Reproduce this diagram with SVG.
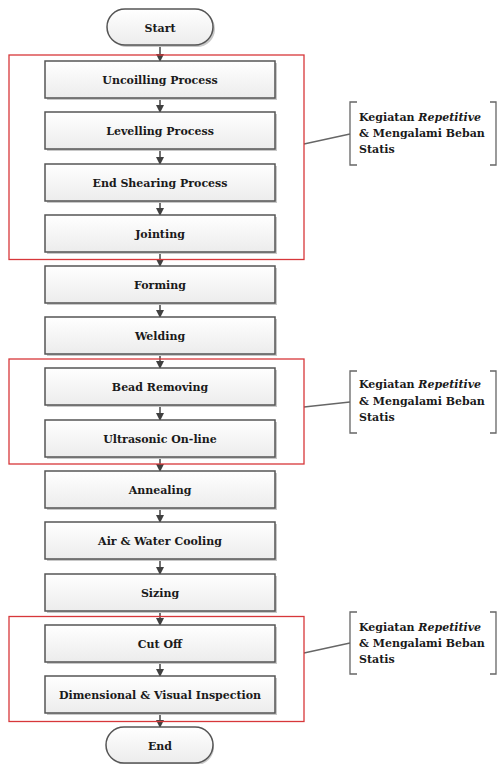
<svg xmlns="http://www.w3.org/2000/svg" width="497" height="764" viewBox="0 0 497 764">
<style>
.box{fill:url(#g);stroke:#555;stroke-width:1.5}
.sh{fill:#c8c8c8}
text{font-family:"DejaVu Serif",serif;font-size:11px;font-weight:bold;fill:#1a1a1a}
.t{text-anchor:middle}
.red{fill:none;stroke:#d7373a;stroke-width:1.3}
.ln{stroke:#454545;stroke-width:1.5;fill:none}
.br{stroke:#666;stroke-width:1.3;fill:none}
</style>
<defs>
<linearGradient id="g" x1="0" y1="0" x2="0" y2="1">
<stop offset="0" stop-color="#ffffff"/>
<stop offset="1" stop-color="#ececec"/>
</linearGradient>
<marker id="ah" markerWidth="8" markerHeight="8" refX="7" refY="4" orient="auto" markerUnits="userSpaceOnUse">
<path d="M0,0 L8,4 L0,8 Z" fill="#404040"/>
</marker>
</defs>
<rect width="497" height="764" fill="#fff"/>

<g id="connectors">
<line class="ln" x1="160" y1="45" x2="160" y2="61" marker-end="url(#ah)"/>
<line class="ln" x1="160" y1="98" x2="160" y2="112" marker-end="url(#ah)"/>
<line class="ln" x1="160" y1="149" x2="160" y2="164" marker-end="url(#ah)"/>
<line class="ln" x1="160" y1="201" x2="160" y2="215" marker-end="url(#ah)"/>
<line class="ln" x1="160" y1="252" x2="160" y2="266" marker-end="url(#ah)"/>
<line class="ln" x1="160" y1="303" x2="160" y2="317" marker-end="url(#ah)"/>
<line class="ln" x1="160" y1="354" x2="160" y2="368" marker-end="url(#ah)"/>
<line class="ln" x1="160" y1="405" x2="160" y2="420" marker-end="url(#ah)"/>
<line class="ln" x1="160" y1="457" x2="160" y2="471" marker-end="url(#ah)"/>
<line class="ln" x1="160" y1="508" x2="160" y2="522" marker-end="url(#ah)"/>
<line class="ln" x1="160" y1="559" x2="160" y2="574" marker-end="url(#ah)"/>
<line class="ln" x1="160" y1="611" x2="160" y2="625" marker-end="url(#ah)"/>
<line class="ln" x1="160" y1="662" x2="160" y2="676" marker-end="url(#ah)"/>
<line class="ln" x1="160" y1="713" x2="160" y2="727" marker-end="url(#ah)"/>
<line class="br" x1="304" y1="144" x2="350" y2="134"/>
<line class="br" x1="304" y1="407" x2="350" y2="402"/>
<line class="br" x1="304" y1="653" x2="350" y2="643"/>
</g>

<g id="start">
<rect x="109" y="11" width="106" height="36" rx="18" fill="#c8c8c8"/>
<rect x="107" y="9" width="106" height="36" rx="18" class="box"/>
<text x="160" y="31.5" class="t">Start</text>
</g>

<g id="uncoilling"><rect x="47" y="63" width="230" height="37" class="sh"/><rect x="45" y="61" width="230" height="37" class="box"/><text x="160" y="83.5" class="t">Uncoilling Process</text></g>
<g id="levelling"><rect x="47" y="114" width="230" height="37" class="sh"/><rect x="45" y="112" width="230" height="37" class="box"/><text x="160" y="134.5" class="t">Levelling Process</text></g>
<g id="endshearing"><rect x="47" y="166" width="230" height="37" class="sh"/><rect x="45" y="164" width="230" height="37" class="box"/><text x="160" y="186.5" class="t">End Shearing Process</text></g>
<g id="jointing"><rect x="47" y="217" width="230" height="37" class="sh"/><rect x="45" y="215" width="230" height="37" class="box"/><text x="160" y="237.5" class="t">Jointing</text></g>
<g id="forming"><rect x="47" y="268" width="230" height="37" class="sh"/><rect x="45" y="266" width="230" height="37" class="box"/><text x="160" y="288.5" class="t">Forming</text></g>
<g id="welding"><rect x="47" y="319" width="230" height="37" class="sh"/><rect x="45" y="317" width="230" height="37" class="box"/><text x="160" y="339.5" class="t">Welding</text></g>
<g id="bead"><rect x="47" y="370" width="230" height="37" class="sh"/><rect x="45" y="368" width="230" height="37" class="box"/><text x="160" y="390.5" class="t">Bead Removing</text></g>
<g id="ultrasonic"><rect x="47" y="422" width="230" height="37" class="sh"/><rect x="45" y="420" width="230" height="37" class="box"/><text x="160" y="442.5" class="t">Ultrasonic On-line</text></g>
<g id="annealing"><rect x="47" y="473" width="230" height="37" class="sh"/><rect x="45" y="471" width="230" height="37" class="box"/><text x="160" y="493.5" class="t">Annealing</text></g>
<g id="cooling"><rect x="47" y="524" width="230" height="37" class="sh"/><rect x="45" y="522" width="230" height="37" class="box"/><text x="160" y="544.5" class="t">Air &amp; Water Cooling</text></g>
<g id="sizing"><rect x="47" y="576" width="230" height="37" class="sh"/><rect x="45" y="574" width="230" height="37" class="box"/><text x="160" y="596.5" class="t">Sizing</text></g>
<g id="cutoff"><rect x="47" y="627" width="230" height="37" class="sh"/><rect x="45" y="625" width="230" height="37" class="box"/><text x="160" y="647.5" class="t">Cut Off</text></g>
<g id="inspection"><rect x="47" y="678" width="230" height="37" class="sh"/><rect x="45" y="676" width="230" height="37" class="box"/><text x="160" y="698.5" class="t">Dimensional &amp; Visual Inspection</text></g>

<g id="end">
<rect x="108" y="729" width="106" height="36" rx="18" fill="#c8c8c8"/>
<rect x="106" y="727" width="107" height="36" rx="18" class="box"/>
<text x="160" y="749.5" class="t">End</text>
</g>

<g id="group1"><rect x="9" y="55" width="295" height="204.5" class="red"/></g>
<g id="group2"><rect x="9" y="359" width="295" height="105" class="red"/></g>
<g id="group3"><rect x="9" y="616.5" width="295" height="105" class="red"/></g>

<g id="note1">
<path class="br" d="M357,102 H350 V165 H357"/>
<path class="br" d="M490,102 H496 V165 H490"/>
<text x="359" y="121">Kegiatan <tspan font-style="italic">Repetitive</tspan></text>
<text x="359" y="137">&amp; Mengalami Beban</text>
<text x="359" y="153">Statis</text>
</g>
<g id="note2">
<path class="br" d="M357,371 H350 V433 H357"/>
<path class="br" d="M490,371 H496 V433 H490"/>
<text x="359" y="388">Kegiatan <tspan font-style="italic">Repetitive</tspan></text>
<text x="359" y="405">&amp; Mengalami Beban</text>
<text x="359" y="421">Statis</text>
</g>
<g id="note3">
<path class="br" d="M357,612 H350 V674 H357"/>
<path class="br" d="M490,612 H496 V674 H490"/>
<text x="359" y="630.5">Kegiatan <tspan font-style="italic">Repetitive</tspan></text>
<text x="359" y="646.5">&amp; Mengalami Beban</text>
<text x="359" y="663">Statis</text>
</g>
</svg>
